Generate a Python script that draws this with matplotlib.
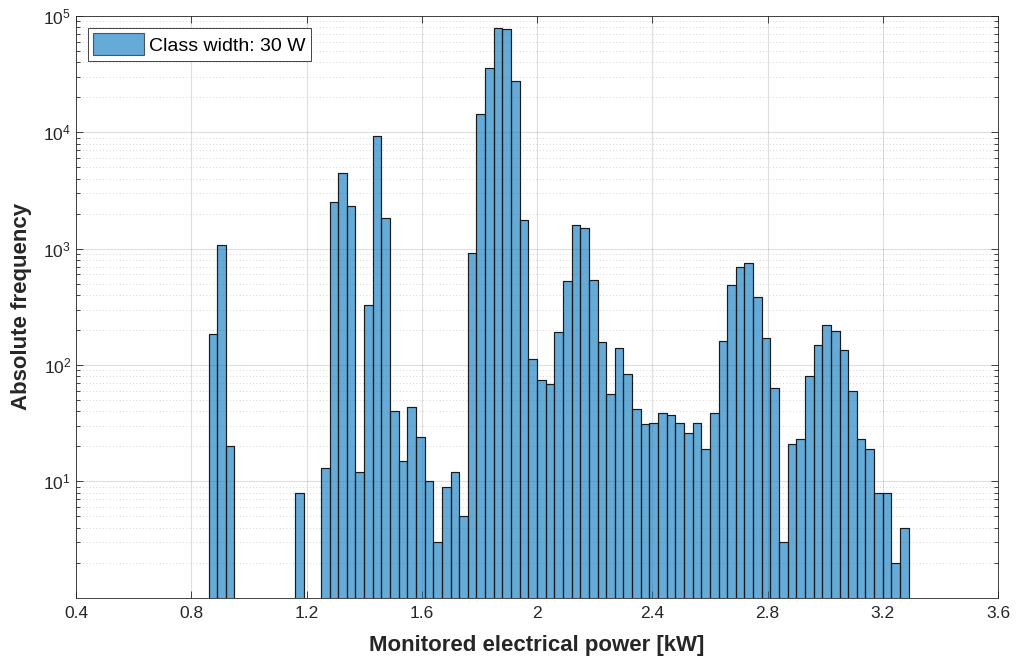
import numpy as np
import matplotlib
matplotlib.use('Agg')
import matplotlib.pyplot as plt
from matplotlib.ticker import LogLocator, NullFormatter, FixedLocator

plt.rcParams['font.family'] = ['Liberation Sans', 'DejaVu Sans']

# histogram data: left bin edges start at 0.86 kW, bin width 0.03 kW
first_edge = 0.86
bin_width = 0.03
counts = [183, 1081, 20, 0, 0, 0, 0, 0, 0, 0,          # 0.86 ..
          8, 0, 0, 13, 2520, 4465, 2348, 12, 331, 9320,  # 1.16 ..
          1842, 40, 15, 44, 24, 10, 3, 9, 12, 5,         # 1.46 ..
          918, 14330, 35850, 79000, 77900, 27700, 1771, 113, 75, 69,  # 1.76 ..
          191, 526, 1588, 1502, 534, 157, 56, 141, 84, 42,  # 2.06 ..
          31, 32, 39, 37, 32, 26, 32, 19, 39, 162,       # 2.36 ..
          490, 695, 748, 386, 171, 63, 3, 21, 23, 80,    # 2.66 ..
          149, 223, 195, 134, 60, 23, 19, 8, 8, 2,       # 2.96 ..
          4]                                             # 3.26

edges = first_edge + bin_width * np.arange(len(counts) + 1)
centers = (edges[:-1] + edges[1:]) / 2
heights = np.where(np.array(counts) > 0, counts, np.nan)

fig = plt.figure(figsize=(10.16, 6.58), dpi=100)
ax = fig.add_axes([0.0748, 0.0916, 0.9075, 0.8841])

ax.bar(centers, heights, width=bin_width, bottom=0.0,
       color=(0, 0.447, 0.741), alpha=0.6, edgecolor='black', linewidth=0.8,
       label='Class width: 30 W', zorder=2)
# redraw edges fully opaque
ax.bar(centers, heights, width=bin_width, fill=False,
       edgecolor=(0.1, 0.1, 0.1), linewidth=0.8, zorder=3)

ax.set_yscale('log')
ax.set_ylim(1, 1e5)
ax.set_xlim(0.4, 3.6)
ax.set_xticks([0.4, 0.8, 1.2, 1.6, 2.0, 2.4, 2.8, 3.2, 3.6])
ax.set_xticklabels(['0.4', '0.8', '1.2', '1.6', '2', '2.4', '2.8', '3.2', '3.6'])
ax.yaxis.set_major_locator(FixedLocator([10, 100, 1e3, 1e4, 1e5]))
ax.yaxis.set_minor_locator(LogLocator(base=10, subs=np.arange(2, 10)))
ax.yaxis.set_minor_formatter(NullFormatter())

ax.grid(True, which='major', color=(0.15, 0.15, 0.15), alpha=0.15, linewidth=0.8, zorder=0)
ax.grid(True, which='minor', axis='y', color=(0.15, 0.15, 0.15), alpha=0.25,
        linestyle=(0, (1, 3)), linewidth=0.6, zorder=0)
ax.set_axisbelow(True)

ax.tick_params(which='both', direction='in', top=True, right=True,
               labelsize=12.5, colors=(0.15, 0.15, 0.15), width=0.6)
ax.tick_params(which='major', length=5)
ax.tick_params(which='minor', length=3)
ax.tick_params(axis='x', pad=6)
for s in ax.spines.values():
    s.set_color((0.15, 0.15, 0.15))
    s.set_linewidth(0.6)

ax.set_xlabel('Monitored electrical power [kW]', fontsize=16, fontweight='bold',
              color=(0.15, 0.15, 0.15), labelpad=10)
ax.set_ylabel('Absolute frequency', fontsize=16, fontweight='bold',
              color=(0.15, 0.15, 0.15), labelpad=8)

leg = ax.legend(loc='upper left', fontsize=14, fancybox=False, framealpha=1,
                edgecolor=(0.15, 0.15, 0.15), handlelength=2.6, handleheight=1.3,
                borderaxespad=0.6, borderpad=0.3, handletextpad=0.25)
leg.get_frame().set_linewidth(0.6)

fig.savefig('out.png', dpi=100)
